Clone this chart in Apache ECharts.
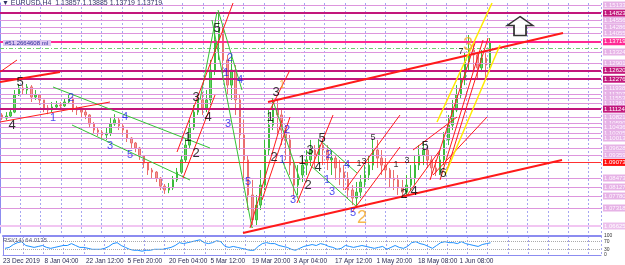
<!DOCTYPE html>
<html><head><meta charset="utf-8">
<script src="https://cdn.jsdelivr.net/npm/echarts@6/dist/echarts.min.js"></script>
<style>html,body{margin:0;padding:0;background:#fff}#c{width:625px;height:265px}</style>
</head><body><div id="c"></div>
<script>
// ---------- data ----------
const timeLabels = ['23 Dec 2019','8 Jan 04:00','22 Jan 12:00','5 Feb 20:00','20 Feb 04:00','5 Mar 12:00','19 Mar 20:00','3 Apr 04:00','17 Apr 12:00','1 May 20:00','18 May 08:00','1 Jun 08:00'];
const firstOpen = 1.1090;
const closes = [1.1078,1.1086,1.1101,1.1167,1.1194,1.1186,1.1198,1.1159,1.1167,1.1148,
1.1117,1.1109,1.1121,1.1128,1.1125,1.1140,1.1155,1.1117,1.1109,1.1101,
1.1090,1.1055,1.1032,1.1024,1.1013,1.1020,1.1055,1.1071,1.1048,1.1032,
1.1001,1.0982,1.0963,1.0932,1.0905,1.0878,1.0870,1.0847,1.0816,1.0801,
1.0809,1.0840,1.0870,1.0917,1.0974,1.1040,1.1101,1.1148,1.1117,1.1148,
1.1263,1.1379,1.1417,1.1302,1.1205,1.1263,1.1148,1.1013,1.0917,1.0782,
1.0686,1.0743,1.0820,1.0955,1.1051,1.1109,1.1090,1.1032,1.0994,1.0897,
1.0820,1.0859,1.0897,1.0917,1.0955,1.0936,1.0974,1.0955,1.0917,1.0924,
1.0886,1.0870,1.0847,1.0801,1.0770,1.0793,1.0832,1.0859,1.0897,1.0955,
1.0924,1.0897,1.0878,1.0847,1.0840,1.0809,1.0793,1.0820,1.0847,1.0897,
1.0936,1.0955,1.0917,1.0886,1.0870,1.0917,1.0994,1.1051,1.1109,1.1167,
1.1225,1.1294,1.1340,1.1321,1.1271,1.1309,1.1282,1.13719];
const highs = [1.1097,1.1101,1.1117,1.1186,1.1209,1.1205,1.1209,1.1205,1.1186,1.1171,
1.1148,1.1128,1.1140,1.1144,1.1140,1.1155,1.1167,1.1159,1.1125,1.1121,
1.1109,1.1093,1.1063,1.1044,1.1032,1.1040,1.1078,1.1093,1.1078,1.1055,
1.1032,1.1005,1.0986,1.0967,1.0936,1.0905,1.0886,1.0874,1.0851,1.0824,
1.0828,1.0855,1.0886,1.0936,1.1001,1.1071,1.1128,1.1171,1.1178,1.1186,
1.1302,1.1425,1.1486,1.1436,1.1321,1.1321,1.1282,1.1167,1.1071,1.0936,
1.0840,1.0782,1.0878,1.0994,1.1109,1.1148,1.1155,1.1109,1.1051,1.1013,
1.0917,1.0897,1.0936,1.0955,1.0994,1.0974,1.1001,1.1001,1.0974,1.0955,
1.0936,1.0917,1.0897,1.0870,1.0820,1.0832,1.0859,1.0897,1.0936,1.1001,
1.0994,1.0955,1.0924,1.0886,1.0878,1.0859,1.0840,1.0859,1.0897,1.0936,
1.0974,1.0986,1.0963,1.0936,1.0917,1.0955,1.1024,1.1090,1.1148,1.1205,
1.1263,1.1333,1.1398,1.1371,1.1333,1.1340,1.1340,1.1386];
const lows = [1.1071,1.1071,1.1082,1.1097,1.1163,1.1167,1.1171,1.1140,1.1148,1.1128,
1.1101,1.1093,1.1101,1.1113,1.1109,1.1121,1.1132,1.1101,1.1090,1.1082,
1.1074,1.1040,1.1017,1.1009,1.0997,1.0994,1.1009,1.1048,1.1032,1.1013,
1.0986,1.0963,1.0947,1.0917,1.0886,1.0859,1.0847,1.0832,1.0801,1.0786,
1.0789,1.0801,1.0832,1.0863,1.0909,1.0963,1.1032,1.1090,1.1090,1.1101,
1.1128,1.1244,1.1302,1.1225,1.1167,1.1148,1.1090,1.0955,1.0840,1.0724,
1.0655,1.0662,1.0724,1.0801,1.0936,1.1032,1.1013,1.0974,1.0917,1.0859,
1.0770,1.0782,1.0832,1.0859,1.0897,1.0886,1.0909,1.0897,1.0878,1.0859,
1.0840,1.0820,1.0801,1.0770,1.0743,1.0739,1.0770,1.0809,1.0840,1.0878,
1.0886,1.0859,1.0840,1.0809,1.0801,1.0782,1.0774,1.0782,1.0801,1.0820,
1.0878,1.0897,1.0886,1.0859,1.0855,1.0859,1.0897,1.0974,1.1032,1.1101,
1.1155,1.1205,1.1263,1.1263,1.1225,1.1255,1.1232,1.1271];
const rsi = [35,40,55,65,70,50,45,40,45,50,
40,35,40,45,50,50,60,50,40,40,
35,30,30,30,35,45,60,65,50,40,
30,25,25,20,25,25,30,30,30,35,
40,50,65,60,65,70,75,80,65,60,
65,75,70,45,40,45,40,35,30,25,
25,45,60,65,60,60,50,45,40,30,
25,35,45,50,55,50,60,55,45,40,
30,35,50,45,40,45,50,45,40,35,
40,45,30,40,50,40,35,45,65,70,
60,55,45,35,50,65,70,65,65,60,
70,60,55,50,45,55,60,64.01];
const rsiLevels = [70, 30];

const lightLevels = [1.15133,1.14556,1.14286,1.14055,1.13324,1.12901,1.11938,1.11707,1.11553,1.11361,1.10821,1.10590,1.10436,1.10205,1.10013,1.09628,1.09359,1.08473,1.08127,1.07780,1.07318];
const darkLevels = [1.14823,1.12620,1.12276,1.11124];
const bidLevel = 1.13719;
const redLevel = 1.09073;
const paleLevel = 1.06625;
const dashLevel = 1.13478;
const priceTickValues = [1.13140,1.08240,1.07410];

// trend lines: [day1, price1, day2, price2]
const redThin = [
 [0,1.12554,4.08,1.13016],[0,1.10629,26.38,1.11399],[42.45,1.09474,55.88,1.15210],
 [43.88,1.08473,51.56,1.11669],[64.75,1.11091,69.54,1.12631],[59.95,1.06548,67.63,1.10706],
 [62.83,1.07626,69.54,1.10821],[71.22,1.07511,79.86,1.10898],[84.41,1.07164,95.92,1.09667],
 [82.73,1.08011,95.92,1.10898],[97.12,1.07703,105.52,1.09551],[99.04,1.09551,109.59,1.10821],
 [103.84,1.08589,116.79,1.10821],[103.12,1.08396,113.91,1.13671],[105.52,1.08396,115.83,1.13786],
 [107.19,1.08781,117.03,1.13863]
];
const redThick = [[0,1.12169,14.39,1.12554],[64.27,1.11399,135.01,1.14055],[58.27,1.06356,134.77,1.09166]];
const yellowLines = [[104.80,1.10629,117.99,1.15210],[106.71,1.08589,119.90,1.13594]];
const greenLines = [
 [12.71,1.11977,50.36,1.09628],[17.27,1.10513,45.56,1.08396],[52.28,1.14941,58.03,1.11861],
 [50.84,1.14556,60.43,1.06548],[47.96,1.11476,52.04,1.14864],[65.23,1.11553,71.94,1.08396],
 [67.63,1.09166,71.94,1.07511],[77.22,1.09859,85.61,1.08666],[74.34,1.08974,85.61,1.07357]
];

// wave labels: [day, price, text]
const blackBig = [[4.80,1.12169,'5'],[2.88,1.10513,'4'],[45.08,1.10051,'1'],[47.00,1.09436,'2'],[47.00,1.11591,'3'],
 [49.88,1.10821,'4'],[52.04,1.14248,'5'],[66.19,1.11784,'3'],[64.75,1.10821,'1'],[65.71,1.09282,'2'],
 [72.42,1.09166,'1'],[74.34,1.09551,'3'],[77.22,1.10013,'5'],[76.26,1.08897,'4'],[73.86,1.08204,'2'],
 [96.88,1.07857,'2'],[99.28,1.07973,'4'],[106.24,1.08666,'6'],[101.92,1.09705,'5']];
const blackSmall = [[89.45,1.10051,'5'],[86.09,1.09012,'1'],[87.29,1.09089,'3'],[94.96,1.08974,'1'],[97.60,1.09128,'3'],[110.55,1.13324,'7']];
const blueLabels = [[12.71,1.10783,'1'],[17.03,1.11553,'2'],[26.38,1.09705,'3'],[29.98,1.10821,'4'],[31.18,1.09359,'5'],
 [54.20,1.12515,'1'],[55.16,1.13093,'2'],[57.55,1.12246,'4'],[54.68,1.10552,'3'],[59.47,1.08319,'5'],
 [68.82,1.10321,'2'],[67.63,1.09166,'1'],[70.26,1.07626,'3'],[78.42,1.08396,'1'],[79.62,1.07934,'3'],
 [78.90,1.09359,'2'],[83.21,1.08974,'4'],[84.65,1.07125,'5']];
const orangeBig = [[86.81,1.06933,'2'],[112.23,1.13594,'3']];
const orangeSmall = [[67.63,1.12054,'1']];
const arrowPoint = [[124.70,1.14325]];

// ---------- chart ----------
const FONT = 'Liberation Sans, Arial, sans-serif';
const XMAX = 144.12;
const GMIN = -1.149, GINT = 4.866;

const candleData = closes.map((c, i) => [i + 0.5, i === 0 ? firstOpen : closes[i - 1], c, lows[i], highs[i]]);

function segs(list, color, width) {
  return list.map(s => ({
    type: 'line', xAxisIndex: 0, yAxisIndex: 0, data: [[s[0], s[1]], [s[2], s[3]]],
    symbol: 'none', showSymbol: false, silent: true, animation: false, clip: true, z: 5,
    lineStyle: { color: color, width: width }
  }));
}
function labels(list, color, size) {
  return {
    type: 'scatter', xAxisIndex: 0, yAxisIndex: 0, data: list, symbolSize: 1, silent: true, animation: false, z: 8,
    itemStyle: { color: 'rgba(0,0,0,0)' },
    label: { show: true, position: 'inside', formatter: p => p.value[2], color: color, fontSize: size, fontFamily: FONT }
  };
}
function fmt(v) { return Number(v).toFixed(5); }
function lvl(v, lineColor, width, bg, txt, type) {
  return {
    yAxis: v, lineStyle: { color: lineColor, width: width, type: type || 'solid' },
    label: bg ? { show: true, position: 'end', distance: 2, formatter: fmt(v),
      backgroundColor: bg, color: txt, fontSize: 6, fontFamily: FONT, padding: [1, 1, 0, 1] } : { show: false }
  };
}
const levelData = [];
lightLevels.forEach(v => levelData.push(lvl(v, '#dd95dd', 1, '#e6b2e6', '#fff6ff')));
levelData.push(lvl(paleLevel, '#f2c6f2', 2, '#ecc0ec', '#ffffff'));
levelData.push(lvl(dashLevel, '#70cc70', 1, null, null, [4, 2, 1, 2]));
levelData.push(lvl(redLevel, '#ff3030', 1, '#ff1010', '#ffffff'));
darkLevels.forEach(v => levelData.push(lvl(v, '#c2177c', 2, '#c2177c', '#ffffff')));
levelData.push(lvl(bidLevel, '#ff2a95', 2, '#ff2a95', '#ffffff'));
priceTickValues.forEach(v => levelData.push({ yAxis: v, lineStyle: { opacity: 0 },
  label: { show: true, position: 'end', distance: 2, formatter: fmt(v), color: '#2020ee', fontSize: 6, fontFamily: FONT } }));

const axisBlue = '#8c8cf0';
const gridLine = { show: true, lineStyle: { color: '#a6a6f2', type: [2, 2], width: 1 } };

const option = {
  animation: false,
  backgroundColor: '#ffffff',
  title: [
    { text: '\u25BC EURUSD,H4  1.13857 1.13885 1.13719 1.13719', left: 2, top: 0, padding: 0,
      textStyle: { fontSize: 7, color: '#333366', fontWeight: 'normal', fontFamily: FONT } },
    { text: '#51.2664608 ml', left: 3, top: 40, padding: [0, 3, 0, 2], backgroundColor: '#ddc6f2',
      textStyle: { fontSize: 6, color: '#2c2c99', fontWeight: 'normal', fontFamily: FONT } },
    { text: 'RSI(14) 64.0135', left: 3, top: 237, padding: 0,
      textStyle: { fontSize: 6, color: '#555577', fontWeight: 'normal', fontFamily: FONT } }
  ],
  grid: [
    { left: 0, right: 24, top: 3, height: 230 },
    { left: 0, right: 24, top: 236, height: 20 }
  ],
  xAxis: [
    { gridIndex: 0, type: 'value', min: 0, max: XMAX, show: false },
    { gridIndex: 0, type: 'value', min: GMIN, max: GMIN + XMAX, interval: GINT,
      axisLine: { show: false }, axisTick: { show: false }, axisLabel: { show: false }, splitLine: gridLine },
    { gridIndex: 1, type: 'value', min: 0, max: XMAX, interval: 10, position: 'bottom',
      axisLine: { show: true, lineStyle: { color: axisBlue, width: 1 } }, axisTick: { show: false }, splitLine: { show: false },
      axisLabel: { show: true, align: 'left', margin: 3, fontSize: 6.5, color: '#2a2a55', fontFamily: FONT,
        showMaxLabel: false, formatter: v => timeLabels[Math.round(v / 10)] || '' } },
    { gridIndex: 1, type: 'value', min: GMIN, max: GMIN + XMAX, interval: GINT, position: 'top',
      axisLine: { show: true, onZero: false, lineStyle: { color: axisBlue, width: 2 } }, axisTick: { show: false },
      axisLabel: { show: false }, splitLine: gridLine }
  ],
  yAxis: [
    { gridIndex: 0, type: 'value', min: 1.06356, max: 1.15211, position: 'right',
      axisLine: { show: true, lineStyle: { color: axisBlue } }, axisTick: { show: false }, axisLabel: { show: false }, splitLine: { show: false } },
    { gridIndex: 1, type: 'value', min: 0, max: 100, interval: 10, position: 'right',
      axisLine: { show: true, lineStyle: { color: axisBlue } }, axisTick: { show: false }, splitLine: { show: false },
      axisLabel: { show: true, margin: 3, fontSize: 5, color: '#333', fontFamily: FONT,
        formatter: v => ([100, 70, 30, 0].indexOf(v) >= 0 ? String(v) : '') } }
  ],
  series: [
    { type: 'line', xAxisIndex: 0, yAxisIndex: 0, data: [[0, 1.1], [1, 1.1]], silent: true, z: 1,
      symbol: 'none', showSymbol: false, lineStyle: { opacity: 0 },
      markLine: { symbol: 'none', silent: true, animation: false, precision: 5, data: levelData } },
    { type: 'candlestick', xAxisIndex: 0, yAxisIndex: 0, data: candleData, barWidth: 2, z: 3,
      dimensions: ['x', 'open', 'close', 'low', 'high'], encode: { x: 0, y: [1, 2, 3, 4] },
      itemStyle: { color: '#66d466', color0: '#f29a9a', borderColor: '#3cbc3c', borderColor0: '#ea6e6e', borderWidth: 1 } },
    ...segs(greenLines, '#33c433', 1),
    ...segs(redThin, '#ff1a1a', 1),
    ...segs(redThick, '#ff1a1a', 2),
    ...segs(yellowLines, '#ffea00', 1.5),
    labels(blackBig, '#000000', 13),
    labels(blackSmall, '#000000', 9),
    labels(blueLabels, '#1a1aee', 11),
    labels(orangeBig, '#f5a623', 18),
    labels(orangeSmall, '#f5a623', 10),
    { type: 'scatter', xAxisIndex: 0, yAxisIndex: 0, data: arrowPoint, silent: true, z: 9,
      symbol: 'path://M13,0 L26,9 L19,9 L19,19 L7,19 L7,9 L0,9 Z', symbolSize: [26, 19],
      itemStyle: { color: '#ffffff', borderColor: '#000000', borderWidth: 1.5 } },
    { type: 'line', xAxisIndex: 2, yAxisIndex: 1, data: rsi.map((v, i) => [i + 0.5, v]),
      symbol: 'none', showSymbol: false, silent: true, lineStyle: { color: '#1e90ff', width: 1 },
      markLine: { symbol: 'none', silent: true, label: { show: false },
        lineStyle: { color: '#aaaaaa', type: 'dotted', width: 1 }, data: rsiLevels.map(v => ({ yAxis: v })) } }
  ]
};
const chart = echarts.init(document.getElementById('c'), null, { renderer: 'canvas' });
chart.setOption(option);
</script>
</body></html>
